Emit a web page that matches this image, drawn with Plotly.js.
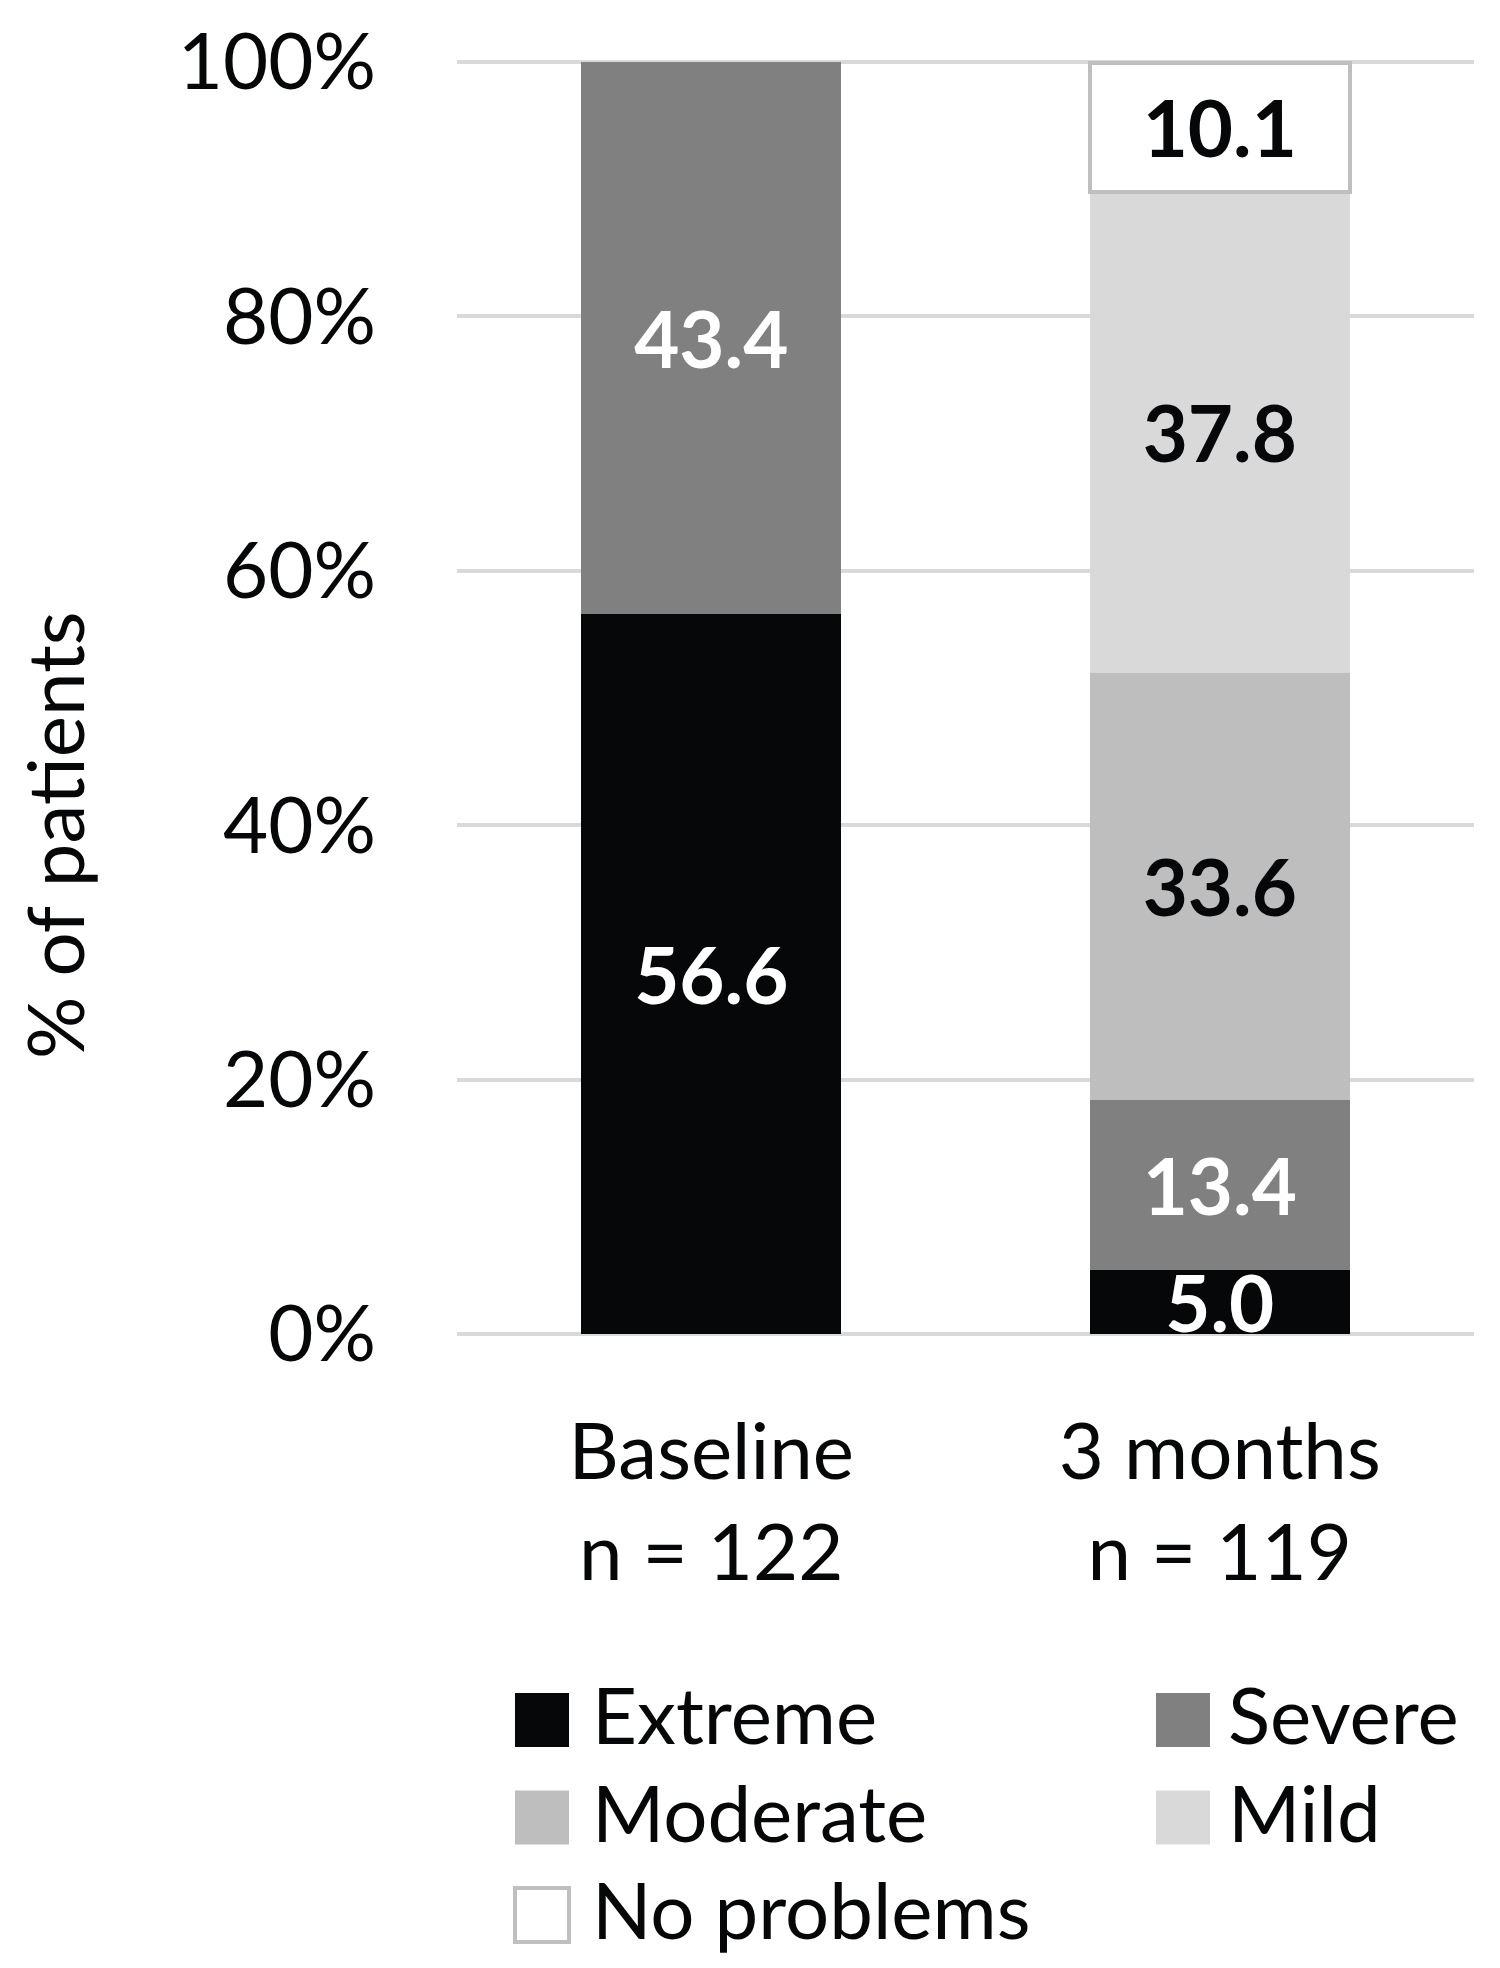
<!DOCTYPE html>
<html>
<head>
<meta charset="utf-8">
<script src="https://cdn.plot.ly/plotly-3.0.1.min.js"></script>
<style>
  html, body { margin: 0; padding: 0; background: #ffffff; }
  #chart { width: 1500px; height: 1968px; }
</style>
</head>
<body>
<div id="chart"></div>
<script>
// ---- data ----
const categories = ['Baseline', '3 months'];
const sampleSizes = ['n = 122', 'n = 119'];
const seriesNames = ['Extreme', 'Severe', 'Moderate', 'Mild', 'No problems'];
const extreme = [56.6, 5.0];
const severe = [43.4, 13.4];
const moderate = [null, 33.6];
const mild = [null, 37.8];
const noProblems = [null, 10.1];
const yTickValues = [0, 20, 40, 60, 80, 100];
const yTickLabels = ['0%', '20%', '40%', '60%', '80%', '100%'];
const yAxisTitle = '% of patients';

// ---- styles ----
const seriesColors = ['#060708', '#7f807f', '#bfbebf', '#d9d9d9', '#ffffff'];
const seriesTextColors = ['#ffffff', '#ffffff', '#060708', '#060708', '#060708'];
const seriesLineColors = [null, null, null, null, '#bfbfbf'];
const FONT = 'Lato, "Open Sans", sans-serif';
const FS = 78;

const seriesValues = [extreme, severe, moderate, mild, noProblems];

const traces = seriesNames.map((name, i) => ({
  type: 'bar',
  name: name,
  x: categories,
  y: seriesValues[i],
  marker: {
    color: seriesColors[i],
    line: seriesLineColors[i] ? {color: seriesLineColors[i], width: 4} : {width: 0}
  },
  texttemplate: '%{y:.1f}',
  textposition: 'inside',
  insidetextanchor: 'middle',
  textangle: 0,
  constraintext: 'none',
  cliponaxis: true,
  textfont: {family: FONT, size: FS, color: seriesTextColors[i], weight: 700},
  hoverinfo: 'skip',
  showlegend: false
}));

// plot area in pixels (for paper conversions of legend/annotation placement)
const W = 1500, H = 1968;
const M = {l: 457, r: 26, t: 60, b: 632};
const plotW = W - M.l - M.r, plotH = H - M.t - M.b;
const px2x = px => (px - M.l) / plotW;
const py2y = py => (H - M.b - py) / plotH;

// manual legend (2 columns, like the original)
const legendCols = [515, 1156];
const legendTextX = [590, 1226];
const legendRowsY = [1720, 1817.5, 1915];
const SW = 54;
const shapes = [];
const annotations = [];
seriesNames.forEach((name, i) => {
  const col = i % 2, row = Math.floor(i / 2);
  const x0 = legendCols[col], yc = legendRowsY[row];
  shapes.push({
    type: 'rect', xref: 'paper', yref: 'paper',
    x0: px2x(x0), x1: px2x(x0 + SW),
    y0: py2y(yc + SW / 2), y1: py2y(yc - SW / 2),
    fillcolor: seriesColors[i],
    line: seriesLineColors[i] ? {color: seriesLineColors[i], width: 4} : {width: 0}
  });
  annotations.push({
    xref: 'paper', yref: 'paper',
    x: px2x(legendTextX[col]), y: py2y(yc - 6),
    xanchor: 'left', yanchor: 'middle',
    text: name, showarrow: false,
    font: {family: FONT, size: FS, color: '#060708'}
  });
});

// y-axis title
annotations.push({
  xref: 'paper', yref: 'paper',
  x: px2x(54), y: py2y(835),
  xanchor: 'center', yanchor: 'middle',
  textangle: -90, text: yAxisTitle, showarrow: false,
  font: {family: FONT, size: FS, color: '#060708'}
});

const layout = {
  width: W, height: H,
  margin: M,
  paper_bgcolor: '#ffffff',
  plot_bgcolor: '#ffffff',
  barmode: 'stack',
  bargap: 0.489,
  showlegend: false,
  font: {family: FONT, size: FS, color: '#060708'},
  xaxis: {
    type: 'category',
    tickvals: categories,
    ticktext: categories.map((c, i) => c + '<br>' + sampleSizes[i]),
    showgrid: false, zeroline: false, showline: false,
    ticks: '', ticklabelstandoff: 64,
    tickfont: {family: FONT, size: FS, color: '#060708'}
  },
  yaxis: {
    range: [-0.15, 100.15],
    tickmode: 'array',
    tickvals: yTickValues,
    ticktext: yTickLabels,
    showgrid: true, gridcolor: '#d9d9d9', gridwidth: 4,
    zeroline: false, showline: false,
    ticks: '', ticklabelstandoff: 80,
    tickfont: {family: FONT, size: FS, color: '#060708'},
    fixedrange: true
  },
  shapes: shapes,
  annotations: annotations
};

Plotly.newPlot('chart', traces, layout, {displayModeBar: false, staticPlot: true});
</script>
</body>
</html>
